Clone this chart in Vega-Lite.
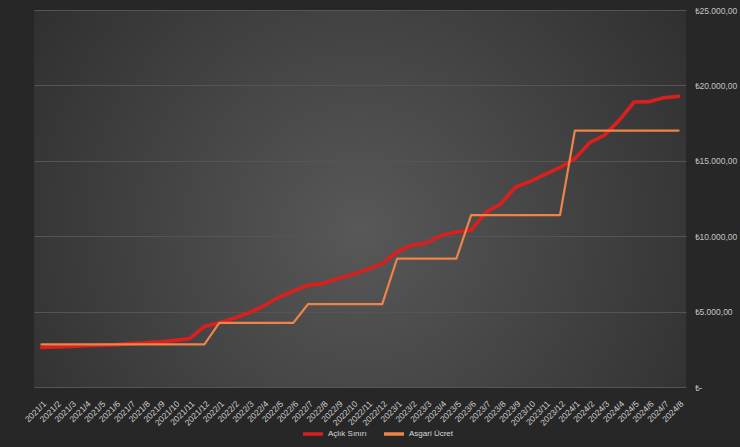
{
  "$schema": "https://vega.github.io/schema/vega-lite/v6.json",
  "description": "Açlık sınırı ve asgari ücret, 2021/1 - 2024/8",
  "autosize": "none",
  "width": 652,
  "height": 377,
  "padding": {"left": 34, "top": 10, "right": 54, "bottom": 60},
  "background": "#272727",
  "data": {
    "values": [
      {"ay": "2021/1", "aclik": 2620, "asgari": 2825.90},
      {"ay": "2021/2", "aclik": 2660, "asgari": 2825.90},
      {"ay": "2021/3", "aclik": 2700, "asgari": 2825.90},
      {"ay": "2021/4", "aclik": 2745, "asgari": 2825.90},
      {"ay": "2021/5", "aclik": 2780, "asgari": 2825.90},
      {"ay": "2021/6", "aclik": 2810, "asgari": 2825.90},
      {"ay": "2021/7", "aclik": 2880, "asgari": 2825.90},
      {"ay": "2021/8", "aclik": 2920, "asgari": 2825.90},
      {"ay": "2021/9", "aclik": 2990, "asgari": 2825.90},
      {"ay": "2021/10", "aclik": 3090, "asgari": 2825.90},
      {"ay": "2021/11", "aclik": 3210, "asgari": 2825.90},
      {"ay": "2021/12", "aclik": 4010, "asgari": 2825.90},
      {"ay": "2022/1", "aclik": 4250, "asgari": 4253.40},
      {"ay": "2022/2", "aclik": 4560, "asgari": 4253.40},
      {"ay": "2022/3", "aclik": 4930, "asgari": 4253.40},
      {"ay": "2022/4", "aclik": 5370, "asgari": 4253.40},
      {"ay": "2022/5", "aclik": 5950, "asgari": 4253.40},
      {"ay": "2022/6", "aclik": 6350, "asgari": 4253.40},
      {"ay": "2022/7", "aclik": 6760, "asgari": 5500.35},
      {"ay": "2022/8", "aclik": 6860, "asgari": 5500.35},
      {"ay": "2022/9", "aclik": 7200, "asgari": 5500.35},
      {"ay": "2022/10", "aclik": 7460, "asgari": 5500.35},
      {"ay": "2022/11", "aclik": 7800, "asgari": 5500.35},
      {"ay": "2022/12", "aclik": 8180, "asgari": 5500.35},
      {"ay": "2023/1", "aclik": 8950, "asgari": 8506.80},
      {"ay": "2023/2", "aclik": 9400, "asgari": 8506.80},
      {"ay": "2023/3", "aclik": 9560, "asgari": 8506.80},
      {"ay": "2023/4", "aclik": 10060, "asgari": 8506.80},
      {"ay": "2023/5", "aclik": 10280, "asgari": 8506.80},
      {"ay": "2023/6", "aclik": 10400, "asgari": 11402.32},
      {"ay": "2023/7", "aclik": 11600, "asgari": 11402.32},
      {"ay": "2023/8", "aclik": 12150, "asgari": 11402.32},
      {"ay": "2023/9", "aclik": 13260, "asgari": 11402.32},
      {"ay": "2023/10", "aclik": 13640, "asgari": 11402.32},
      {"ay": "2023/11", "aclik": 14110, "asgari": 11402.32},
      {"ay": "2023/12", "aclik": 14560, "asgari": 11402.32},
      {"ay": "2024/1", "aclik": 15150, "asgari": 17002.12},
      {"ay": "2024/2", "aclik": 16200, "asgari": 17002.12},
      {"ay": "2024/3", "aclik": 16700, "asgari": 17002.12},
      {"ay": "2024/4", "aclik": 17700, "asgari": 17002.12},
      {"ay": "2024/5", "aclik": 18900, "asgari": 17002.12},
      {"ay": "2024/6", "aclik": 18920, "asgari": 17002.12},
      {"ay": "2024/7", "aclik": 19180, "asgari": 17002.12},
      {"ay": "2024/8", "aclik": 19270, "asgari": 17002.12}
    ]
  },
  "encoding": {
    "x": {
      "field": "ay",
      "type": "ordinal",
      "sort": null,
      "title": null,
      "scale": {"type": "point", "padding": 0.5},
      "axis": {
        "labelAngle": -45,
        "labelAlign": "right",
        "labelBaseline": "top",
        "labelPadding": 12,
        "labelColor": "#d0d0d0",
        "labelFontSize": 8.5,
        "ticks": false,
        "domain": false,
        "grid": false,
        "labelOverlap": false
      }
    }
  },
  "layer": [
    {
      "mark": {"type": "line", "strokeWidth": 3.7, "strokeJoin": "round", "strokeCap": "round"},
      "encoding": {
        "y": {
          "field": "aclik",
          "type": "quantitative",
          "title": null,
          "scale": {"domain": [0, 25000], "nice": false},
          "axis": {
            "orient": "right",
            "values": [0, 5000, 10000, 15000, 20000, 25000],
            "labelExpr": "datum.value == 0 ? '₺-' : '₺' + replace(replace(replace(format(datum.value, ',.2f'), ',', '_'), '.', ','), '_', '.')",
            "labelColor": "#c4c4c4",
            "labelFontSize": 8.5,
            "labelPadding": 8,
            "labelAlign": "left",
            "domain": false,
            "ticks": false,
            "grid": true,
            "gridColor": "#555555",
            "gridWidth": 1
          }
        },
        "color": {
          "datum": "Açlık Sınırı",
          "scale": {"domain": ["Açlık Sınırı", "Asgari Ücret"], "range": ["#d8201e", "#ee8448"]},
          "legend": {
            "orient": "none",
            "legendX": 267,
            "legendY": 412,
            "direction": "horizontal",
            "title": null,
            "symbolType": "stroke",
            "symbolSize": 400,
            "symbolStrokeWidth": 3.5,
            "labelColor": "#d9d9d9",
            "labelFontSize": 8,
            "labelOffset": 3,
            "columnPadding": 10
          }
        }
      }
    },
    {
      "mark": {"type": "line", "strokeWidth": 2.2, "strokeJoin": "round", "strokeCap": "round"},
      "encoding": {
        "y": {"field": "asgari", "type": "quantitative", "title": null},
        "color": {"datum": "Asgari Ücret"}
      }
    }
  ],
  "config": {
    "font": "Liberation Sans",
    "view": {
      "stroke": null,
      "fill": {
        "gradient": "radial",
        "x1": 0.5, "y1": 0.55, "r1": 0,
        "x2": 0.5, "y2": 0.55, "r2": 0.72,
        "stops": [
          {"offset": 0, "color": "#585858"},
          {"offset": 1, "color": "#282828"}
        ]
      }
    }
  }
}
